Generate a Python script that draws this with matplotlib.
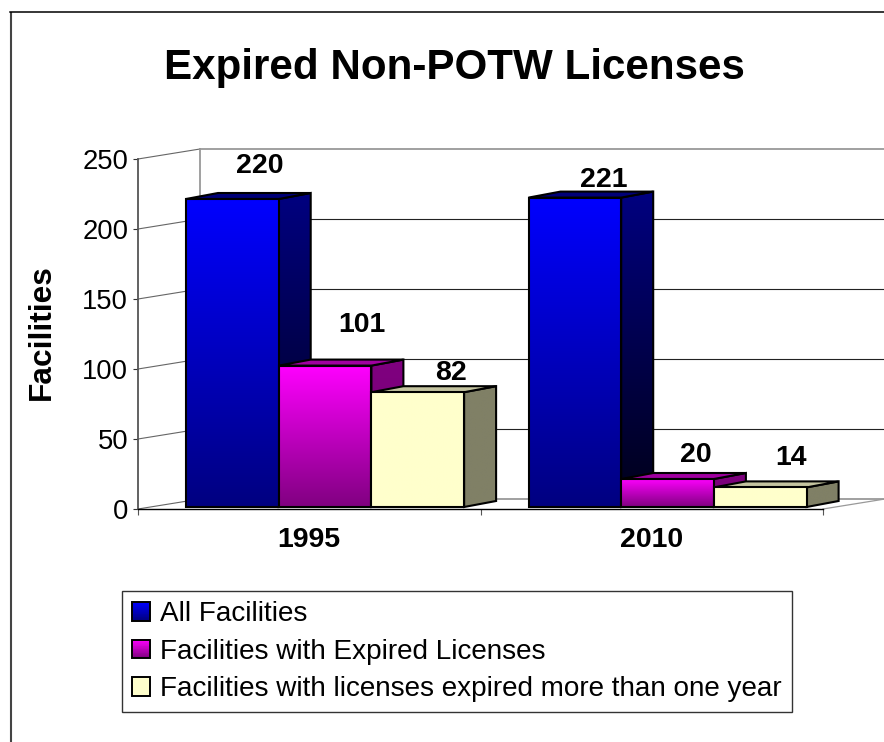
import numpy as np
import matplotlib
matplotlib.use("Agg")
import matplotlib.pyplot as plt
from matplotlib.colors import to_rgb
from matplotlib.legend_handler import HandlerBase
from matplotlib.patches import Polygon, Rectangle

plt.rcParams['font.family'] = ['Liberation Sans', 'DejaVu Sans']

years = ['1995', '2010']
all_facilities = [220, 221]
expired = [101, 20]
expired_long = [82, 14]
series_names = ['All Facilities', 'Facilities with Expired Licenses',
                'Facilities with licenses expired more than one year']
y_ticks = [0, 50, 100, 150, 200, 250]

W, H = 884, 742
PX_CAT = 342.5  # pixels per category
PX_UNIT = 1.4   # pixels per facility

# colours for each series: front top, front bottom, side top, side bottom, lid
styles = [
    ('#0000ff', '#000080', '#000080', '#000018', '#000078'),
    ('#ff00ff', '#800080', '#800080', '#700070', '#a000a0'),
    ('#ffffcc', '#ffffcc', '#808066', '#808066', '#c4c4a0'),
]

# depth of the chart box and of the bars
wall_dx, wall_dy = 62 / PX_CAT, 10 / PX_UNIT
bar_dx, bar_dy = 32 / PX_CAT, 6 / PX_UNIT
bar_w = 92.7 / PX_CAT
group_x = 48 / PX_CAT
base = 2 / PX_UNIT

# where each value label sits, from the top left corner of its bar (pixels)
label_shift = {
    (0, 0): (74, 33), (0, 1): (83, 41), (0, 2): (80, 19),
    (1, 0): (75, 18), (1, 1): (75, 24), (1, 2): (77, 29),
}


def gradient_poly(ax, xs, ys, top, bottom, zorder):
    poly = Polygon(np.column_stack([xs, ys]), closed=True, transform=ax.transData,
                   facecolor='none', edgecolor='black', linewidth=1.5,
                   joinstyle='miter', zorder=zorder + 0.5, clip_on=False)
    ax.add_patch(poly)
    ramp = np.linspace(to_rgb(top), to_rgb(bottom), 256)[:, None, :]
    img = ax.imshow(ramp, extent=[min(xs), max(xs), min(ys), max(ys)], aspect='auto',
                    origin='upper', interpolation='bilinear', zorder=zorder)
    img.set_clip_path(poly)
    # the sides stick out past the axes box on the right
    img.set_clip_box(ax.figure.bbox)


def draw_bar(ax, x, value, style, zorder):
    front_top, front_bot, side_top, side_bot, lid = style
    y0, y1 = base, base + value
    x1 = x + bar_w
    gradient_poly(ax, [x1, x1 + bar_dx, x1 + bar_dx, x1], [y1, y1 + bar_dy, y0 + bar_dy, y0],
                  side_top, side_bot, zorder)
    gradient_poly(ax, [x, x + bar_dx, x1 + bar_dx, x1], [y1, y1 + bar_dy, y1 + bar_dy, y1],
                  lid, lid, zorder + 1)
    gradient_poly(ax, [x, x1, x1, x], [y1, y1, y0, y0], front_top, front_bot, zorder + 2)


class GradientHandler(HandlerBase):
    def __init__(self, top, bottom):
        super().__init__()
        self.top, self.bottom = top, bottom

    def create_artists(self, legend, orig_handle, xdescent, ydescent, width, height, fontsize, trans):
        artists = []
        steps = 24
        ramp = np.linspace(to_rgb(self.top), to_rgb(self.bottom), steps)
        for i, c in enumerate(ramp):
            y = -ydescent + height * (1 - (i + 1) / steps)
            artists.append(Rectangle((-xdescent, y), width, height / steps + 0.2,
                                     facecolor=c, edgecolor='none', transform=trans))
        artists.append(Rectangle((-xdescent, -ydescent), width, height, facecolor='none',
                                 edgecolor='black', linewidth=1.4, transform=trans))
        return artists


fig = plt.figure(figsize=(W / 100, H / 100), dpi=100)
ax = fig.add_axes([138 / W, 1 - 509 / H, 685 / W, 350 / H])

# outer chart border, runs off the right and bottom of the picture
fig.add_artist(plt.Line2D([10.5 / W, 10.5 / W], [0, 1 - 11.5 / H], color='#444444', lw=1.5,
                          solid_capstyle='butt'))
fig.add_artist(plt.Line2D([10 / W, 1], [1 - 11.5 / H, 1 - 11.5 / H], color='black', lw=1.1))

# back wall and floor
for v in y_ticks:
    wall = '#999999' if v in (0, 250) else '#222222'
    ax.plot([wall_dx, 2 + wall_dx], [v + wall_dy, v + wall_dy], color=wall, lw=0.8 if v not in (0, 250) else 1.3,
            clip_on=False, zorder=1)
    ax.plot([0, wall_dx], [v, v + wall_dy], color='#666666', lw=0.8, clip_on=False, zorder=1)
ax.plot([wall_dx, wall_dx], [wall_dy, 250 + wall_dy], color='#999999', lw=1.3, clip_on=False, zorder=1)
ax.plot([2, 2 + wall_dx], [0, wall_dy], color='#999999', lw=0.9, clip_on=False, zorder=1)

# bars, back to front within each group
series = [all_facilities, expired, expired_long]
z = 3
for g in range(len(years)):
    for s, values in enumerate(series):
        x = g + group_x + s * bar_w
        draw_bar(ax, x, values[g], styles[s], z)
        sx, sy = label_shift[(g, s)]
        ax.annotate(str(values[g]), (x, base + values[g]), xytext=(sx * 0.72, sy * 0.72),
                    textcoords='offset points', ha='center', va='center',
                    fontsize=20.5, fontweight='bold', zorder=50, annotation_clip=False)
        z += 4

ax.set_xlim(0, 2)
ax.set_ylim(0, 250)
ax.set_yticks(y_ticks)
ax.set_xticks([0, 1, 2], ['', '', ''])
ax.set_xticks([0.5, 1.5], years, minor=True)
ax.tick_params(axis='y', labelsize=19.7, length=3.6, width=0.8, pad=3.5, color='#333333')
ax.tick_params(axis='x', which='major', length=4.5, width=0.8, color='#555555')
ax.tick_params(axis='x', which='minor', length=0, labelsize=20.5, pad=13)
for label in ax.get_xticklabels(minor=True):
    label.set_fontweight('bold')

for side in ('top', 'right'):
    ax.spines[side].set_visible(False)
ax.spines['left'].set_color('#555555')
ax.spines['left'].set_linewidth(1.3)
ax.spines['bottom'].set_color('black')
ax.spines['bottom'].set_linewidth(1.0)
ax.patch.set_alpha(0)

ax.set_ylabel('Facilities', fontsize=22.8, fontweight='bold')
ax.yaxis.set_label_coords((57 - 138) / 685, 0.505)

fig.text(454 / W, 1 - 68 / H, 'Expired Non-POTW Licenses', ha='center', va='center',
         fontsize=30.3, fontweight='bold')

handles = [Rectangle((0, 0), 1, 1) for _ in series_names]
handler_map = {h: GradientHandler(st[0], st[1]) for h, st in zip(handles, styles)}
leg = fig.legend(handles, series_names, handler_map=handler_map, loc='upper left',
                 bbox_to_anchor=(122 / W, 1 - 591 / H), borderaxespad=0, fontsize=20.05,
                 fancybox=False, framealpha=1, edgecolor='#333333', borderpad=0.37,
                 handlelength=0.65, handleheight=0.65, handletextpad=0.34, labelspacing=0.41)
leg.get_frame().set_linewidth(1.0)

fig.savefig('out.png', dpi=100)
